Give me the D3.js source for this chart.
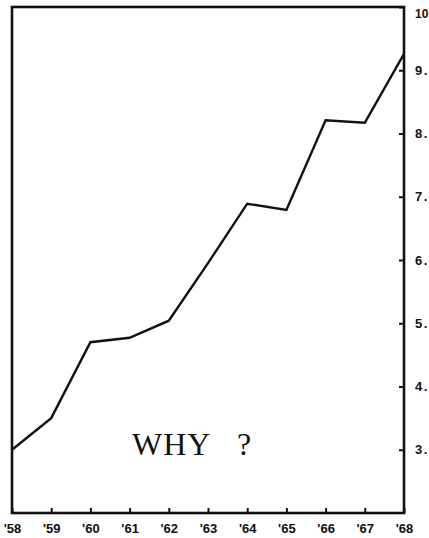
<!DOCTYPE html>
<html>
<head>
<meta charset="utf-8">
<script src="https://cdn.jsdelivr.net/npm/d3@7"></script>
<style>
body{margin:0;background:#fff}
</style>
</head>
<body>
<div id="chart"></div>
<script>

const years = [1958,1959,1960,1961,1962,1963,1964,1965,1966,1967,1968]
const values = [3.0,3.5,4.7,4.77,5.04,5.95,6.89,6.79,8.21,8.17,9.26]
const yTicks = [3,4,5,6,7,8,9,10]

const width = 429
const height = 538

const mLeft = 12, mRight = 404, mTop = 7, mBottom = 513

const svg = d3.select("#chart")
.append("svg")
.attr("width",width)
.attr("height",height)

const x = d3.scaleLinear().domain([1958,1968]).range([mLeft,mRight])
const y = d3.scaleLinear().domain([2,10]).range([mBottom,mTop])

// x axis, ticks pointing inward
const xAxis = svg.append("g")
.attr("transform","translate(0,"+mBottom+")")
.call(d3.axisBottom(x).tickValues(years).tickSize(-5).tickPadding(11)
.tickFormat(d=>"'"+String(d).slice(2)))

xAxis.select(".domain").remove()
xAxis.selectAll("line").attr("stroke","#111").attr("stroke-width",2)
xAxis.selectAll("text")
.attr("fill","#111")
.attr("font-family","Liberation Sans, Arial, sans-serif")
.attr("font-weight","bold")
.attr("font-size","13px")

// y axis on the right
const yAxis = svg.append("g")
.attr("transform","translate("+mRight+",0)")
.call(d3.axisRight(y).tickValues(yTicks).tickSize(-5).tickPadding(11)
.tickFormat(d=>d===10 ? "10" : d+"."))

yAxis.select(".domain").remove()
yAxis.selectAll("line").attr("stroke","#111").attr("stroke-width",2)
yAxis.selectAll("text")
.attr("fill","#111")
.attr("font-family","Liberation Sans, Arial, sans-serif")
.attr("font-weight","bold")
.attr("font-size",d=>d===10 ? "12px" : "13px")
.attr("letter-spacing",d=>d===10 ? "0px" : "1.5px")
.attr("dy",d=>d===10 ? "0.9em" : "0.32em")

// frame
svg.append("rect")
.attr("x",mLeft)
.attr("y",mTop)
.attr("width",mRight-mLeft)
.attr("height",mBottom-mTop)
.attr("fill","none")
.attr("stroke","#111")
.attr("stroke-width",2.6)

const line = d3.line()
.x((d,i)=>x(years[i]))
.y(d=>y(d))

svg.append("path")
.datum(values)
.attr("d",line)
.attr("fill","none")
.attr("stroke","#111")
.attr("stroke-width",2.4)
.attr("stroke-linejoin","miter")

svg.append("text")
.attr("x",132)
.attr("y",455)
.text("WHY")
.attr("font-family","Liberation Serif, Times New Roman, serif")
.attr("font-size","32px")
.attr("letter-spacing","1px")
.attr("fill","#111")

svg.append("text")
.attr("x",237)
.attr("y",455)
.text("?")
.attr("font-family","Liberation Serif, Times New Roman, serif")
.attr("font-size","32px")
.attr("fill","#111")

</script>
</body>
</html>
